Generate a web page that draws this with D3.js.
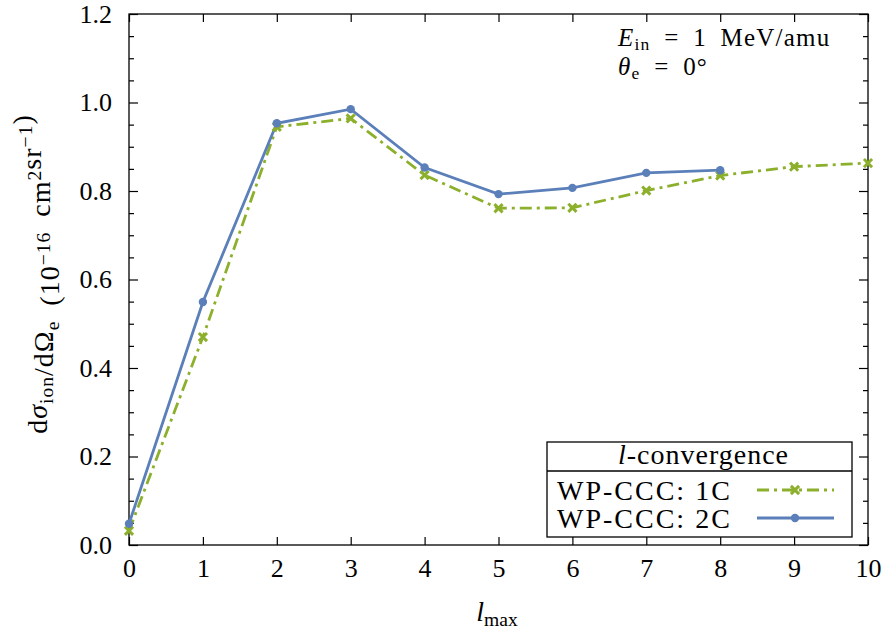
<!DOCTYPE html>
<html>
<head>
<meta charset="utf-8">
<script src="https://cdn.jsdelivr.net/npm/d3@7"></script>
<style>
  html, body { margin: 0; padding: 0; background: #fff; }
  svg { display: block; font-family: "Liberation Serif", "DejaVu Serif", serif; }
  .tick text { font-family: "Liberation Serif", serif; }
</style>
</head>
<body>
<svg id="chart" width="885" height="637"></svg>
<script>
// l-convergence of the ionization cross section
const lmax = [0, 1, 2, 3, 4, 5, 6, 7, 8, 9, 10];
const wp1C = [0.032, 0.470, 0.945, 0.964, 0.836, 0.761, 0.762, 0.801, 0.835, 0.855, 0.863];
const lmax2C = [0, 1, 2, 3, 4, 5, 6, 7, 8];
const wp2C = [0.048, 0.549, 0.953, 0.985, 0.853, 0.793, 0.807, 0.841, 0.847];
const xTicks = [0, 1, 2, 3, 4, 5, 6, 7, 8, 9, 10];
const yTicks = [0.0, 0.2, 0.4, 0.6, 0.8, 1.0, 1.2];
const legendLabels = ["WP-CCC: 1C", "WP-CCC: 2C"];

const green = "#8cb02c";
const blue = "#5b7fb9";
const fs = 26;
const fsText = 28;

const svg = d3.select("#chart");
const m = { left: 129, right: 868, top: 14, bottom: 545 };
const x = d3.scaleLinear().domain([0, 10]).range([m.left, m.right]);
const y = d3.scaleLinear().domain([0, 1.2]).range([m.bottom, m.top]);

const yMinor = d3.range(0, 1.2001, 0.05).filter(v => Math.abs(v / 0.2 - Math.round(v / 0.2)) > 1e-6);

function styleAxis(g) {
  g.select(".domain").remove();
  g.selectAll(".tick line").attr("stroke", "#000").attr("stroke-width", 1.2);
  g.selectAll(".tick text").attr("font-size", fs).attr("fill", "#000");
}

// bottom axis
svg.append("g").attr("transform", `translate(0,${m.bottom})`)
  .call(d3.axisBottom(x).tickValues(xTicks).tickFormat(d3.format("d")).tickSize(-8).tickPadding(14))
  .call(styleAxis)
  .call(g => g.selectAll(".tick text").attr("dy", "0.71em"));
// top axis ticks
svg.append("g").attr("transform", `translate(0,${m.top})`)
  .call(d3.axisTop(x).tickValues(xTicks).tickFormat("").tickSize(-8))
  .call(styleAxis);
// left axis
svg.append("g").attr("transform", `translate(${m.left},0)`)
  .call(d3.axisLeft(y).tickValues(yTicks).tickFormat(d3.format(".1f")).tickSize(-9).tickPadding(17))
  .call(styleAxis);
svg.append("g").attr("transform", `translate(${m.left},0)`)
  .call(d3.axisLeft(y).tickValues(yMinor).tickFormat("").tickSize(-5))
  .call(styleAxis);
// right axis
svg.append("g").attr("transform", `translate(${m.right},0)`)
  .call(d3.axisRight(y).tickValues(yTicks).tickFormat("").tickSize(-9))
  .call(styleAxis);
svg.append("g").attr("transform", `translate(${m.right},0)`)
  .call(d3.axisRight(y).tickValues(yMinor).tickFormat("").tickSize(-5))
  .call(styleAxis);

// frame
svg.append("rect")
  .attr("x", m.left).attr("y", m.top)
  .attr("width", m.right - m.left).attr("height", m.bottom - m.top)
  .attr("fill", "none").attr("stroke", "#000").attr("stroke-width", 1.3);

// series
const line = d3.line().x(d => x(d[0])).y(d => y(d[1]));
const pts1 = lmax.map((l, i) => [l, wp1C[i]]);
const pts2 = lmax2C.map((l, i) => [l, wp2C[i]]);

svg.append("path").datum(pts1).attr("d", line)
  .attr("fill", "none").attr("stroke", green).attr("stroke-width", 2.8)
  .attr("stroke-dasharray", "12,5,3,5");
svg.append("path").datum(pts2).attr("d", line)
  .attr("fill", "none").attr("stroke", blue).attr("stroke-width", 2.8);

const cross = d3.symbol().type(d3.symbolX).size(45);
svg.append("g").selectAll("path").data(pts1).join("path")
  .attr("d", cross)
  .attr("transform", d => `translate(${x(d[0])},${y(d[1])})`)
  .attr("fill", "none").attr("stroke", green).attr("stroke-width", 3);
svg.append("g").selectAll("circle").data(pts2).join("circle")
  .attr("cx", d => x(d[0])).attr("cy", d => y(d[1])).attr("r", 4.2)
  .attr("fill", blue);

// axis titles
const xt = svg.append("text").attr("x", 497).attr("y", 621)
  .attr("text-anchor", "middle").attr("font-size", fsText);
xt.append("tspan").attr("font-style", "italic").text("l");
xt.append("tspan").attr("font-size", fsText * 0.7).attr("dy", 5).text("max");

const yfs = 28;
const yt = svg.append("text")
  .attr("transform", "translate(47,274) rotate(-90)")
  .attr("text-anchor", "middle").attr("font-size", yfs)
  .attr("letter-spacing", 1);
const sub = (t) => { yt.append("tspan").attr("font-size", yfs * 0.7).attr("dy", 6).text(t); yt.append("tspan").attr("dy", -6).text(""); };
const sup = (t) => { yt.append("tspan").attr("font-size", yfs * 0.7).attr("dy", -9).text(t); yt.append("tspan").attr("dy", 9).text(""); };
yt.append("tspan").text("d");
yt.append("tspan").attr("font-style", "italic").text("σ");
sub("ion");
yt.append("tspan").text("/dΩ");
sub("e");
yt.append("tspan").text("\u2002(10");
sup("−16");
yt.append("tspan").text("\u2002cm");
sup("2");
yt.append("tspan").text("sr");
sup("−1");
yt.append("tspan").text(")");

// annotation
const fsAnn = 25;
const a1 = svg.append("text").attr("x", 618).attr("y", 46).attr("font-size", fsAnn).attr("letter-spacing", 1.2);
a1.append("tspan").attr("font-style", "italic").text("E");
a1.append("tspan").attr("font-size", fsAnn * 0.7).attr("dy", 4).text("in");
a1.append("tspan").attr("dy", -4).text("\u2002=\u20021\u2002MeV/amu");
const a2 = svg.append("text").attr("x", 618).attr("y", 75).attr("font-size", fsAnn).attr("letter-spacing", 1.2);
a2.append("tspan").attr("font-style", "italic").text("θ");
a2.append("tspan").attr("font-size", fsAnn * 0.7).attr("dy", 4).text("e");
a2.append("tspan").attr("dy", -4).text("\u2002=\u20020°");

// legend
const lg = svg.append("g");
const L = { x0: 547, x1: 852, y0: 442, ysep: 471, y1: 537 };
lg.append("rect").attr("x", L.x0).attr("y", L.y0).attr("width", L.x1 - L.x0).attr("height", L.y1 - L.y0)
  .attr("fill", "#fff").attr("stroke", "#000").attr("stroke-width", 1.3);
lg.append("line").attr("x1", L.x0).attr("x2", L.x1).attr("y1", L.ysep).attr("y2", L.ysep)
  .attr("stroke", "#000").attr("stroke-width", 1.3);
const lt = lg.append("text").attr("x", (L.x0 + L.x1) / 2 + 4).attr("y", 464).attr("text-anchor", "middle")
  .attr("font-size", fsText).attr("letter-spacing", 1);
lt.append("tspan").attr("font-style", "italic").text("l");
lt.append("tspan").text("-convergence");

const rows = [
  { label: legendLabels[0], color: green, y: 490, dash: "12,5,3,5", mark: "x" },
  { label: legendLabels[1], color: blue, y: 518, dash: null, mark: "o" }
];
rows.forEach(r => {
  lg.append("text").attr("x", 557).attr("y", r.y + 10).attr("font-size", fsText)
    .attr("letter-spacing", 2).text(r.label);
  const ln = lg.append("line").attr("x1", 757).attr("x2", 834).attr("y1", r.y).attr("y2", r.y)
    .attr("stroke", r.color).attr("stroke-width", 2.8);
  if (r.dash) ln.attr("stroke-dasharray", r.dash);
  if (r.mark === "x") {
    lg.append("path").attr("d", cross).attr("transform", `translate(795,${r.y})`)
      .attr("fill", "none").attr("stroke", r.color).attr("stroke-width", 3);
  } else {
    lg.append("circle").attr("cx", 795).attr("cy", r.y).attr("r", 4.2).attr("fill", r.color);
  }
});
</script>
</body>
</html>
